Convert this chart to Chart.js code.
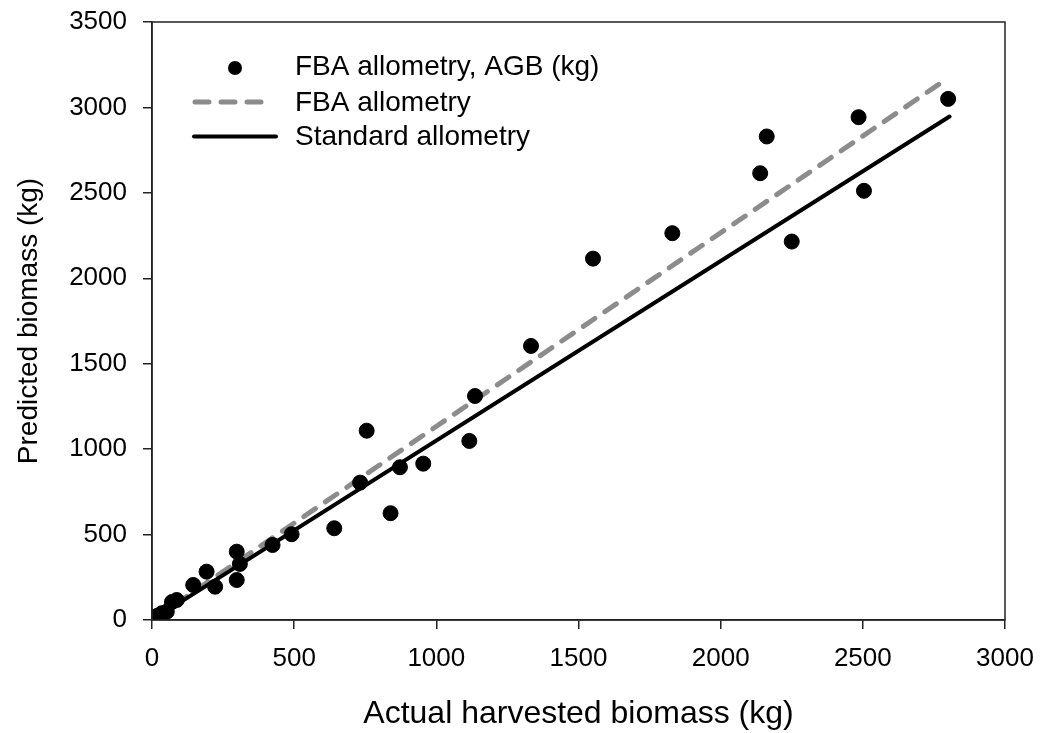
<!DOCTYPE html>
<html>
<head>
<meta charset="utf-8">
<script src="https://cdn.jsdelivr.net/npm/chart.js@4"></script>
<style>
  html, body { margin: 0; padding: 0; background: #fff; }
  #wrap { width: 1042px; height: 733px; }
</style>
</head>
<body>
<div id="wrap"><canvas id="myChart" width="1042" height="733"></canvas></div>
<script>
const actualKg = [2800, 2485, 2162, 2139, 2504, 1830, 2250, 1551, 1333, 1136, 1116, 755, 954, 872, 732, 839, 641, 491, 424, 298, 309, 298, 192, 222, 145, 87, 70, 52, 11, 20, 35, 5];
const predictedKg = [3050, 2943, 2830, 2615, 2512, 2264, 2215, 2115, 1604, 1311, 1048, 1108, 915, 894, 804, 625, 537, 502, 439, 400, 328, 234, 283, 195, 205, 117, 105, 49, 19, 25, 40, 10];

// fitted lines (end points)
const fbaLineX = [5, 2780];
const fbaLineY = [6, 3150];
const stdLineX = [5, 2805];
const stdLineY = [5, 2947];

const xTicks = [0, 500, 1000, 1500, 2000, 2500, 3000];
const yTicks = [0, 500, 1000, 1500, 2000, 2500, 3000, 3500];

const toPts = (xs, ys) => xs.map((x, i) => ({ x: x, y: ys[i] }));
const FONT = 'Liberation Sans, Arial, sans-serif';

const data = {
    datasets: [
        {
            label: 'FBA allometry, AGB (kg)',
            data: toPts(actualKg, predictedKg),
            backgroundColor: '#000',
            borderColor: '#000',
            pointRadius: 7.5,
            order: 0
        },
        {
            label: 'FBA allometry',
            type: 'line',
            data: toPts(fbaLineX, fbaLineY),
            borderColor: '#8c8c8c',
            borderWidth: 5,
            borderDash: [14, 12],
            borderCapStyle: 'round',
            pointRadius: 0,
            fill: false,
            order: 2
        },
        {
            label: 'Standard allometry',
            type: 'line',
            data: toPts(stdLineX, stdLineY),
            borderColor: '#000',
            borderWidth: 4,
            borderCapStyle: 'round',
            pointRadius: 0,
            fill: false,
            order: 1
        }
    ]
};

// frame around plot + legend inside the plot area
const framePlugin = {
    id: 'frame',
    afterDraw(chart) {
        const ctx = chart.ctx, a = chart.chartArea;
        ctx.save();
        ctx.strokeStyle = '#222';
        ctx.lineWidth = 1.5;
        ctx.strokeRect(a.left, a.top, a.right - a.left, a.bottom - a.top);

        const rows = [66, 102, 136.5];
        const tx = 295;
        ctx.font = '28px ' + FONT;
        ctx.textBaseline = 'middle';
        chart.data.datasets.forEach((ds, i) => {
            const y = rows[i];
            ctx.fillStyle = '#000';
            if (i === 0) {
                ctx.beginPath();
                ctx.arc(235, y + 2, 7, 0, Math.PI * 2);
                ctx.fill();
            } else {
                ctx.beginPath();
                ctx.strokeStyle = ds.borderColor;
                ctx.lineWidth = ds.borderWidth;
                ctx.lineCap = 'round';
                ctx.setLineDash(ds.borderDash || []);
                ctx.moveTo(i === 1 ? 195 : 194, y);
                ctx.lineTo(i === 1 ? 266 : 276, y);
                ctx.stroke();
                ctx.setLineDash([]);
            }
            ctx.fillStyle = '#000';
            ctx.fillText(ds.label, tx, y + 1);
        });
        ctx.restore();
    }
};

const config = {
    type: 'scatter',
    data: data,
    options: {
        responsive: false,
        animation: false,
        layout: { padding: { top: 22, right: 37, left: 0, bottom: 0 } },
        plugins: {
            legend: { display: false },
            tooltip: { enabled: false }
        },
        scales: {
            x: {
                type: 'linear',
                min: 0,
                max: 3000,
                afterFit(s) { s.height = 113; s.paddingLeft = 0; s.paddingRight = 0; },
                afterBuildTicks(s) { s.ticks = xTicks.map(v => ({ value: v })); },
                border: { display: true, color: '#222', width: 1.5 },
                grid: { drawOnChartArea: false, drawTicks: true, tickLength: 9, color: '#222', lineWidth: 1.5 },
                ticks: { color: '#000', font: { family: FONT, size: 26 }, padding: 14, callback: v => String(v) },
                title: { display: true, text: 'Actual harvested biomass (kg)', color: '#000', font: { family: FONT, size: 32 }, padding: { top: 0, bottom: 0 } }
            },
            y: {
                type: 'linear',
                min: 0,
                max: 3500,
                afterFit(s) { s.width = 152; s.paddingTop = 0; s.paddingBottom = 0; },
                afterBuildTicks(s) { s.ticks = yTicks.map(v => ({ value: v })); },
                border: { display: true, color: '#222', width: 1.5 },
                grid: { drawOnChartArea: false, drawTicks: true, tickLength: 9, color: '#222', lineWidth: 1.5 },
                ticks: { color: '#000', font: { family: FONT, size: 26 }, padding: 16, callback: v => String(v) },
                title: { display: true, text: 'Predicted biomass (kg)', color: '#000', font: { family: FONT, size: 28 }, padding: { top: 12, bottom: 0 } }
            }
        }
    },
    plugins: [framePlugin]
};

const myChart = new Chart(
    document.getElementById('myChart'),
    config
);
</script>
</body>
</html>
